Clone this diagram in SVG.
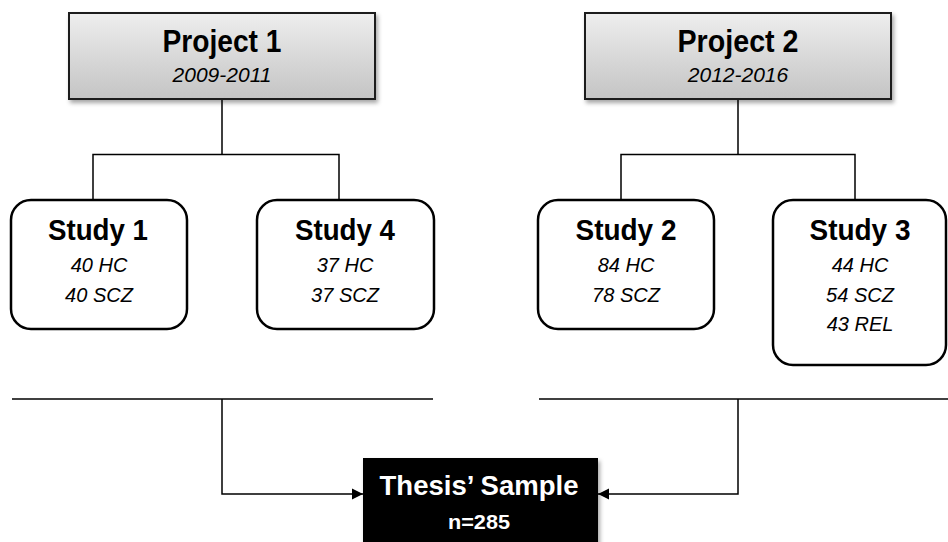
<svg xmlns="http://www.w3.org/2000/svg" width="948" height="542" viewBox="0 0 948 542">
  <defs>
    <linearGradient id="projFill" x1="0" y1="0" x2="0" y2="1">
      <stop offset="0" stop-color="#eeeeee"/>
      <stop offset="1" stop-color="#c4c4c4"/>
    </linearGradient>
    <filter id="shadow" x="-10%" y="-10%" width="125%" height="135%">
      <feDropShadow dx="2" dy="3" stdDeviation="2" flood-color="#000" flood-opacity="0.35"/>
    </filter>
    <marker id="arrow" markerWidth="12" markerHeight="12" refX="11" refY="6" orient="auto" markerUnits="userSpaceOnUse">
      <path d="M0,0.5 L11,6 L0,11.5 Z" fill="#000"/>
    </marker>
  </defs>
  <style>
    .proj { fill: url(#projFill); stroke: #1a1a1a; stroke-width: 2; }
    .study { fill: #fff; stroke: #000; stroke-width: 2.5; }
    .line { fill: none; stroke: #000; stroke-width: 1.5; }
    .title { font-family: "Liberation Sans", Arial, sans-serif; font-weight: bold; font-size: 29px; text-anchor: middle; fill: #000; }
    .ptitle { font-size: 31px; }
    .sub { font-family: "Liberation Sans", Arial, sans-serif; font-style: italic; font-size: 20px; text-anchor: middle; fill: #000; }
    .date { font-size: 21px; }
    .white { fill: #fff; }
  </style>

  <rect width="948" height="542" fill="#fff"/>

  <!-- connectors -->
  <g id="connectors">
    <path class="line" d="M222,100 V154.5 M93,200 V154.5 H339 V200"/>
    <path class="line" d="M738,100 V154.5 M621,200 V154.5 H855 V200"/>
    <path class="line" d="M12,399 H433"/>
    <path class="line" d="M539,399 H948"/>
    <path class="line" d="M222,399 V494 H363" marker-end="url(#arrow)"/>
    <path class="line" d="M738,399 V494 H598" marker-end="url(#arrow)"/>
  </g>

  <!-- project boxes -->
  <g id="project1">
    <rect class="proj" x="69" y="13" width="306" height="86" filter="url(#shadow)"/>
    <text class="title ptitle" x="222" y="52" textLength="119" lengthAdjust="spacingAndGlyphs">Project 1</text>
    <text class="sub date" x="222" y="82">2009-2011</text>
  </g>
  <g id="project2">
    <rect class="proj" x="585" y="13" width="306" height="86" filter="url(#shadow)"/>
    <text class="title ptitle" x="738" y="52" textLength="121" lengthAdjust="spacingAndGlyphs">Project 2</text>
    <text class="sub date" x="738" y="82">2012-2016</text>
  </g>

  <!-- study boxes -->
  <g id="study1">
    <rect class="study" x="11" y="200" width="176" height="129" rx="20"/>
    <text class="title" x="98" y="240" textLength="100" lengthAdjust="spacingAndGlyphs">Study 1</text>
    <text class="sub" x="99" y="272">40 HC</text>
    <text class="sub" x="99" y="302">40 SCZ</text>
  </g>
  <g id="study4">
    <rect class="study" x="257" y="200" width="177" height="129" rx="20"/>
    <text class="title" x="345" y="240" textLength="100" lengthAdjust="spacingAndGlyphs">Study 4</text>
    <text class="sub" x="345" y="272">37 HC</text>
    <text class="sub" x="345" y="302">37 SCZ</text>
  </g>
  <g id="study2">
    <rect class="study" x="538" y="200" width="176" height="129" rx="20"/>
    <text class="title" x="626" y="240" textLength="101" lengthAdjust="spacingAndGlyphs">Study 2</text>
    <text class="sub" x="626" y="272">84 HC</text>
    <text class="sub" x="626" y="302">78 SCZ</text>
  </g>
  <g id="study3">
    <rect class="study" x="773" y="200" width="173" height="165" rx="20"/>
    <text class="title" x="860" y="240" textLength="101" lengthAdjust="spacingAndGlyphs">Study 3</text>
    <text class="sub" x="860" y="272">44 HC</text>
    <text class="sub" x="860" y="302">54 SCZ</text>
    <text class="sub" x="860" y="331">43 REL</text>
  </g>

  <!-- final sample -->
  <g id="thesis-sample">
    <rect x="363" y="458" width="235" height="90" fill="#000" filter="url(#shadow)"/>
    <text class="title white" x="479" y="495" style="font-size:28px" textLength="199" lengthAdjust="spacingAndGlyphs">Thesis’ Sample</text>
    <text class="title white" x="479" y="529" style="font-size:21px" textLength="62" lengthAdjust="spacingAndGlyphs">n=285</text>
  </g>
</svg>
